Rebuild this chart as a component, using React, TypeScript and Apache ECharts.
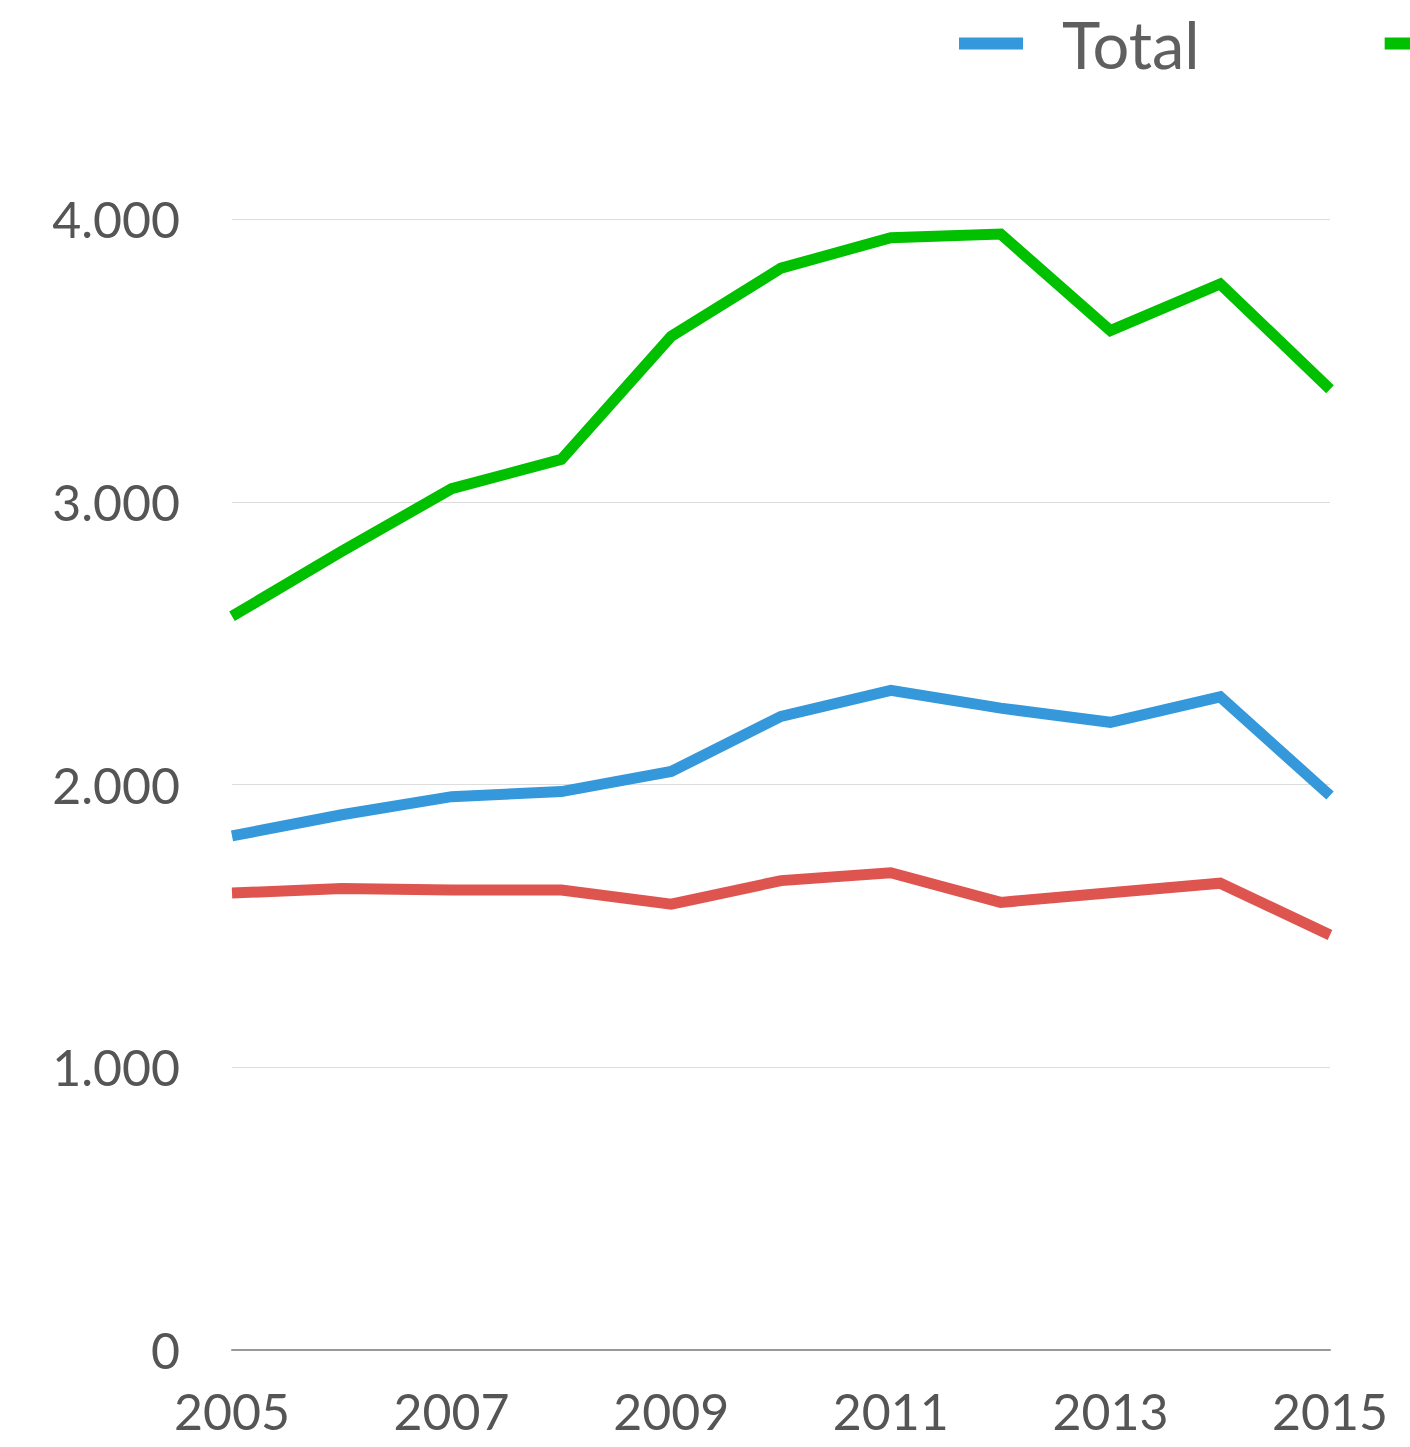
import React, { useEffect, useRef } from "react";
import * as echarts from "echarts";

const years = ["2005", "2006", "2007", "2008", "2009", "2010", "2011", "2012", "2013", "2014", "2015"];
const totalValues = [1818, 1893, 1957, 1975, 2046, 2241, 2333, 2270, 2220, 2310, 1961];
const menValues = [2595, 2825, 3046, 3150, 3585, 3826, 3934, 3947, 3605, 3770, 3398];
const womenValues = [1616, 1632, 1627, 1627, 1577, 1660, 1688, 1583, 1617, 1651, 1468];
const seriesNames = ["Total", "Hombres", "Mujeres"];
const seriesColors = ["#3498db", "#00c000", "#de5550"];

const FONT = "Lato, 'Noto Sans', sans-serif";

export default function App() {
  const ref = useRef<HTMLDivElement>(null);
  useEffect(() => {
    document.body.style.margin = "0";
    if (!ref.current) return;
    const chart = echarts.init(ref.current, null, { renderer: "svg" });
    const values = [totalValues, menValues, womenValues];
    chart.setOption({
      animation: false,
      textStyle: { fontFamily: FONT },
      legend: {
        left: 954,
        top: 6,
        width: 3000,
        orient: "horizontal",
        icon: "rect",
        itemWidth: 64,
        itemHeight: 12,
        itemGap: 185,
        textStyle: {
          fontFamily: FONT,
          fontSize: 65,
          color: "#5f5f5f",
          padding: [0, 0, 0, 34],
        },
        data: seriesNames,
      },
      grid: { left: 232, right: 80, top: 219, bottom: 97, containLabel: false },
      xAxis: {
        type: "category",
        data: years,
        boundaryGap: false,
        axisLine: { lineStyle: { color: "#999999", width: 2 } },
        axisTick: { show: false },
        splitLine: { show: false },
        axisLabel: {
          interval: 1,
          margin: 36,
          fontSize: 50,
          color: "#555555",
          fontFamily: FONT,
        },
      },
      yAxis: {
        type: "value",
        min: 0,
        max: 4000,
        interval: 1000,
        axisLine: { show: false },
        axisTick: { show: false },
        splitLine: { lineStyle: { color: "#dddddd", width: 1 } },
        axisLabel: {
          margin: 52,
          fontSize: 50,
          color: "#555555",
          fontFamily: FONT,
          formatter: (v: number) => v.toLocaleString("de-DE"),
        },
      },
      series: seriesNames.map((name, i) => ({
        name,
        type: "line",
        data: values[i],
        symbol: "none",
        showSymbol: false,
        color: seriesColors[i],
        lineStyle: { width: 11, color: seriesColors[i], cap: "butt", join: "miter" },
        z: i === 0 ? 3 : 2,
      })),
    });
    return () => chart.dispose();
  }, []);
  return <div ref={ref} style={{ width: 1410, height: 1447 }} />;
}
